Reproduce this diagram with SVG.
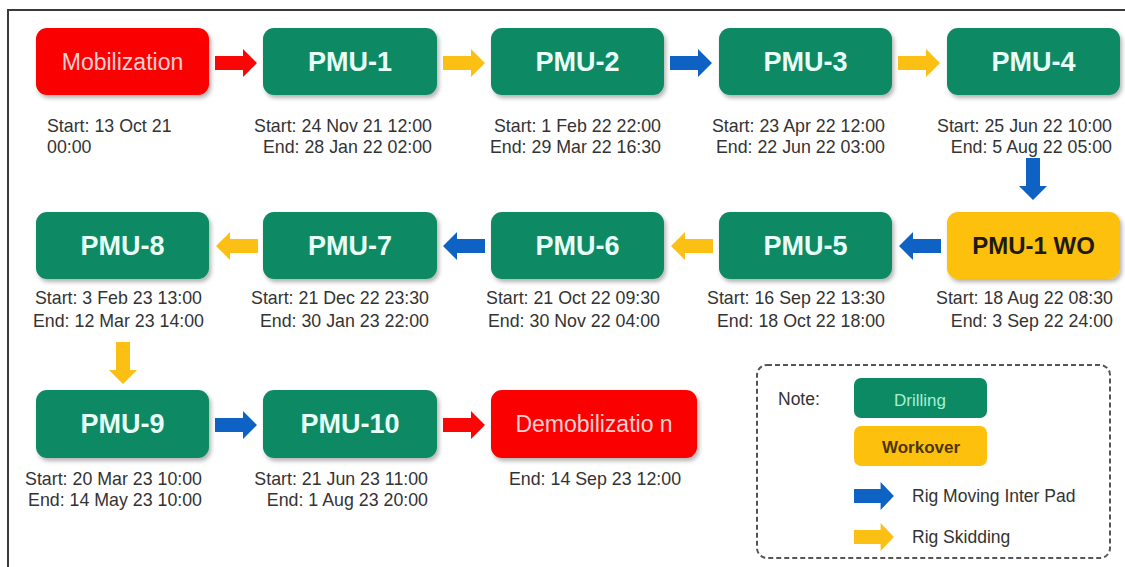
<svg xmlns="http://www.w3.org/2000/svg" xmlns:xlink="http://www.w3.org/1999/xlink" width="1125" height="567" viewBox="0 0 1125 567">
<style>
.bg{fill:#ffffff}
.frame{fill:none;stroke:#3a3a3a;stroke-width:2}
.box{stroke:none}
.green{fill:#0c8a63}
.red{fill:#fb0606}
.yellow{fill:#fdc00c}
.blue{fill:#0e62c4}
.ylw{fill:#fcc014}
.lbl{font-family:"Liberation Sans",Arial,sans-serif;font-weight:bold;font-size:27px;fill:#e8fff8;text-anchor:middle}
.lblr{font-family:"Liberation Sans",Arial,sans-serif;font-size:23px;fill:#ffd0d0;text-anchor:middle}
.lblwo{font-family:"Liberation Sans",Arial,sans-serif;font-weight:bold;font-size:24px;fill:#1e1a10;text-anchor:middle}
.date{font-family:"Liberation Sans",Arial,sans-serif;font-size:17.8px;fill:#333333}
.end{text-anchor:end}
.mid{text-anchor:middle}
.leg{font-family:"Liberation Sans",Arial,sans-serif;font-size:17.5px;fill:#333333}
.legbox{fill:none;stroke:#555555;stroke-width:2;stroke-dasharray:5 3}
</style>
<defs>
<filter id="sh" x="-10%" y="-10%" width="125%" height="135%">
<feDropShadow dx="2" dy="3" stdDeviation="2" flood-color="#000000" flood-opacity="0.3"/>
</filter>
<path id="arr" d="M0,-7 H28 V-14 L42,0 L28,14 V7 H0 Z"/>
</defs>
<rect class="bg" x="0" y="0" width="1125" height="567"/>
<rect class="frame" x="8" y="10" width="1130" height="580"/>

<g id="connectors">
<use xlink:href="#arr" class="red" transform="translate(215,63)"/>
<use xlink:href="#arr" class="ylw" transform="translate(443,63)"/>
<use xlink:href="#arr" class="blue" transform="translate(670,63)"/>
<use xlink:href="#arr" class="ylw" transform="translate(898,63)"/>
<use xlink:href="#arr" class="blue" transform="translate(1033,158) rotate(90)"/>
<use xlink:href="#arr" class="blue" transform="translate(941,246) scale(-1,1)"/>
<use xlink:href="#arr" class="ylw" transform="translate(713,246) scale(-1,1)"/>
<use xlink:href="#arr" class="blue" transform="translate(485,246) scale(-1,1)"/>
<use xlink:href="#arr" class="ylw" transform="translate(258,246) scale(-1,1)"/>
<use xlink:href="#arr" class="ylw" transform="translate(123,342) rotate(90)"/>
<use xlink:href="#arr" class="blue" transform="translate(215,425)"/>
<use xlink:href="#arr" class="red" transform="translate(443,425)"/>
</g>

<g id="mobilization">
<rect class="box red" filter="url(#sh)" x="36" y="28" width="173" height="67" rx="11"/>
<text class="lblr" x="122.5" y="70">Mobilization</text>
<text class="date" x="47" y="132">Start: 13 Oct 21</text>
<text class="date" x="47" y="153">00:00</text>
</g>
<g id="pmu1">
<rect class="box green" filter="url(#sh)" x="263" y="28" width="174" height="67" rx="11"/>
<text class="lbl" x="350" y="71">PMU-1</text>
<text class="date end" x="432" y="132">Start: 24 Nov 21 12:00</text>
<text class="date end" x="432" y="153">End: 28 Jan 22 02:00</text>
</g>
<g id="pmu2">
<rect class="box green" filter="url(#sh)" x="491" y="28" width="173" height="67" rx="11"/>
<text class="lbl" x="577.5" y="71">PMU-2</text>
<text class="date end" x="661" y="132">Start: 1 Feb 22 22:00</text>
<text class="date end" x="661" y="153">End: 29 Mar 22 16:30</text>
</g>
<g id="pmu3">
<rect class="box green" filter="url(#sh)" x="719" y="28" width="173" height="67" rx="11"/>
<text class="lbl" x="805.5" y="71">PMU-3</text>
<text class="date end" x="885" y="132">Start: 23 Apr 22 12:00</text>
<text class="date end" x="885" y="153">End: 22 Jun 22 03:00</text>
</g>
<g id="pmu4">
<rect class="box green" filter="url(#sh)" x="947" y="28" width="173" height="67" rx="11"/>
<text class="lbl" x="1033.5" y="71">PMU-4</text>
<text class="date end" x="1112" y="132">Start: 25 Jun 22 10:00</text>
<text class="date end" x="1112" y="153">End: 5 Aug 22 05:00</text>
</g>

<g id="pmu1wo">
<rect class="box yellow" filter="url(#sh)" x="947" y="212" width="173" height="67" rx="11"/>
<text class="lblwo" x="1033.5" y="254">PMU-1 WO</text>
<text class="date end" x="1113" y="304">Start: 18 Aug 22 08:30</text>
<text class="date end" x="1113" y="327">End: 3 Sep 22 24:00</text>
</g>
<g id="pmu5">
<rect class="box green" filter="url(#sh)" x="719" y="212" width="173" height="67" rx="11"/>
<text class="lbl" x="805.5" y="255">PMU-5</text>
<text class="date end" x="885" y="304">Start: 16 Sep 22 13:30</text>
<text class="date end" x="885" y="327">End: 18 Oct 22 18:00</text>
</g>
<g id="pmu6">
<rect class="box green" filter="url(#sh)" x="491" y="212" width="173" height="67" rx="11"/>
<text class="lbl" x="577.5" y="255">PMU-6</text>
<text class="date end" x="660" y="304">Start: 21 Oct 22 09:30</text>
<text class="date end" x="660" y="327">End: 30 Nov 22 04:00</text>
</g>
<g id="pmu7">
<rect class="box green" filter="url(#sh)" x="263" y="212" width="174" height="67" rx="11"/>
<text class="lbl" x="350" y="255">PMU-7</text>
<text class="date end" x="429" y="304">Start: 21 Dec 22 23:30</text>
<text class="date end" x="429" y="327">End: 30 Jan 23 22:00</text>
</g>
<g id="pmu8">
<rect class="box green" filter="url(#sh)" x="36" y="212" width="173" height="67" rx="11"/>
<text class="lbl" x="122.5" y="255">PMU-8</text>
<text class="date end" x="202" y="304">Start: 3 Feb 23 13:00</text>
<text class="date end" x="204" y="327">End: 12 Mar 23 14:00</text>
</g>

<g id="pmu9">
<rect class="box green" filter="url(#sh)" x="36" y="390" width="173" height="68" rx="11"/>
<text class="lbl" x="122.5" y="433">PMU-9</text>
<text class="date end" x="202" y="485">Start: 20 Mar 23 10:00</text>
<text class="date end" x="202" y="506">End: 14 May 23 10:00</text>
</g>
<g id="pmu10">
<rect class="box green" filter="url(#sh)" x="263" y="390" width="174" height="68" rx="11"/>
<text class="lbl" x="350" y="433">PMU-10</text>
<text class="date end" x="428" y="485">Start: 21 Jun 23 11:00</text>
<text class="date end" x="428" y="506">End: 1 Aug 23 20:00</text>
</g>
<g id="demobilization">
<rect class="box red" filter="url(#sh)" x="491" y="390" width="206" height="68" rx="11"/>
<text class="lblr" x="594" y="432">Demobilizatio n</text>
<text class="date mid" x="595" y="485">End: 14 Sep 23 12:00</text>
</g>

<g id="legend">
<rect class="legbox" x="757" y="365" width="353" height="193" rx="10"/>
<text class="leg" x="778" y="405">Note:</text>
<rect class="green" x="854" y="378" width="133" height="40" rx="7"/>
<text class="leg mid" x="920" y="406" style="font-size:17px;fill:#a6f0d2">Drilling</text>
<rect class="yellow" x="854" y="426" width="133" height="40" rx="7"/>
<text class="leg mid" x="921" y="453" style="font-weight:bold;font-size:17px;fill:#4a3505">Workover</text>
<use xlink:href="#arr" class="blue" transform="translate(854,496) scale(0.95,1)"/>
<text class="leg" x="912" y="502">Rig Moving Inter Pad</text>
<use xlink:href="#arr" class="ylw" transform="translate(854,537) scale(0.95,1)"/>
<text class="leg" x="912" y="543">Rig Skidding</text>
</g>
</svg>
